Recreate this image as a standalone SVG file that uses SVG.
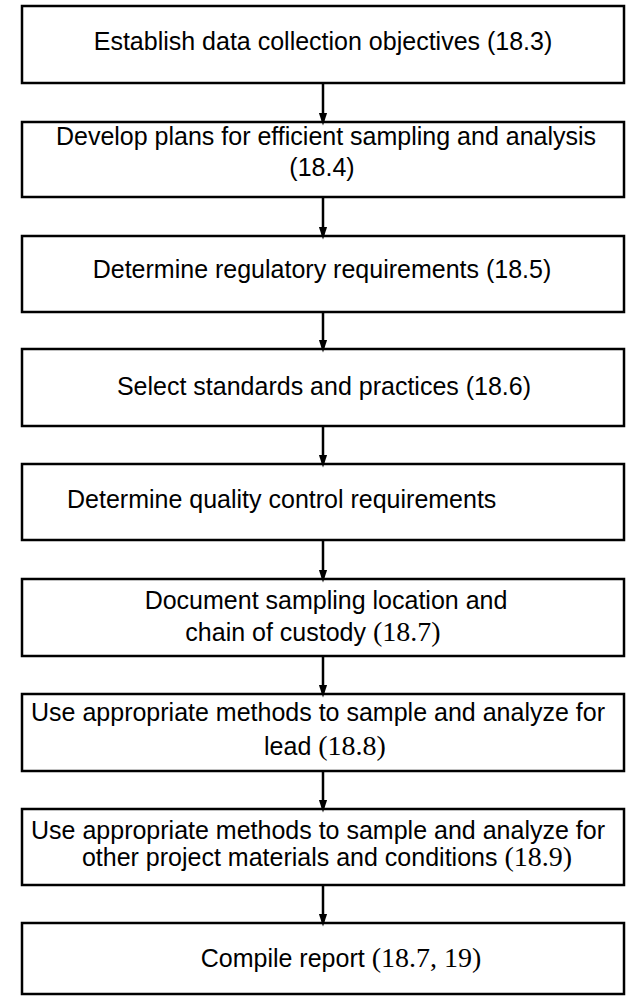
<svg xmlns="http://www.w3.org/2000/svg" width="634" height="998" viewBox="0 0 634 998">
<style>
.box{fill:#fff;stroke:#000;stroke-width:2.5}
.t{font-family:"Liberation Sans",Arial,sans-serif;font-size:25px;fill:#000;text-anchor:middle}
.s{font-family:"Liberation Serif","Times New Roman",serif;font-size:28px}
.c{stroke:#000;stroke-width:2.5;fill:none}
</style>
<defs>
<marker id="ah" markerWidth="13" markerHeight="20" refX="13" refY="6.5" orient="auto" markerUnits="userSpaceOnUse" viewBox="0 0 20 13">
<path d="M0,0 L20,6.5 L0,13 Z" fill="#000"/>
</marker>
</defs>
<rect width="634" height="998" fill="#fff"/>
<g id="n1"><rect class="box" x="22" y="6" width="602" height="77"/><text class="t" x="323" y="50">Establish data collection objectives (18.3)</text></g>
<g id="n2"><rect class="box" x="22" y="122" width="602" height="75"/><text class="t" x="326" y="145">Develop plans for efficient sampling and analysis</text><text class="t" x="322" y="176">(18.4)</text></g>
<g id="n3"><rect class="box" x="22" y="236" width="602" height="76"/><text class="t" x="322" y="278">Determine regulatory requirements (18.5)</text></g>
<g id="n4"><rect class="box" x="22" y="349" width="602" height="77"/><text class="t" x="324" y="395">Select standards and practices (18.6)</text></g>
<g id="n5"><rect class="box" x="22" y="464" width="602" height="76"/><text class="t" x="67" y="508" style="text-anchor:start">Determine quality control requirements</text></g>
<g id="n6"><rect class="box" x="22" y="579" width="602" height="77"/><text class="t" x="326" y="609">Document sampling location and</text><text class="t" x="313" y="641">chain of custody <tspan class="s">(18.7)</tspan></text></g>
<g id="n7"><rect class="box" x="22" y="694" width="602" height="77"/><text class="t" x="318" y="721">Use appropriate methods to sample and analyze for</text><text class="t" x="325" y="755">lead <tspan class="s">(18.8)</tspan></text></g>
<g id="n8"><rect class="box" x="22" y="809" width="602" height="76"/><text class="t" x="318" y="839">Use appropriate methods to sample and analyze for</text><text class="t" x="327" y="866">other project materials and conditions <tspan class="s">(18.9)</tspan></text></g>
<g id="n9"><rect class="box" x="22" y="923" width="602" height="71"/><text class="t" x="341" y="967">Compile report <tspan class="s">(18.7, 19)</tspan></text></g>
<g id="connectors">
<line class="c" x1="323" y1="83" x2="323" y2="121" marker-end="url(#ah)"/>
<line class="c" x1="323" y1="197" x2="323" y2="235" marker-end="url(#ah)"/>
<line class="c" x1="323" y1="312" x2="323" y2="348" marker-end="url(#ah)"/>
<line class="c" x1="323" y1="426" x2="323" y2="463" marker-end="url(#ah)"/>
<line class="c" x1="323" y1="540" x2="323" y2="578" marker-end="url(#ah)"/>
<line class="c" x1="323" y1="656" x2="323" y2="693" marker-end="url(#ah)"/>
<line class="c" x1="323" y1="771" x2="323" y2="808" marker-end="url(#ah)"/>
<line class="c" x1="323" y1="885" x2="323" y2="922" marker-end="url(#ah)"/>
</g>
</svg>
